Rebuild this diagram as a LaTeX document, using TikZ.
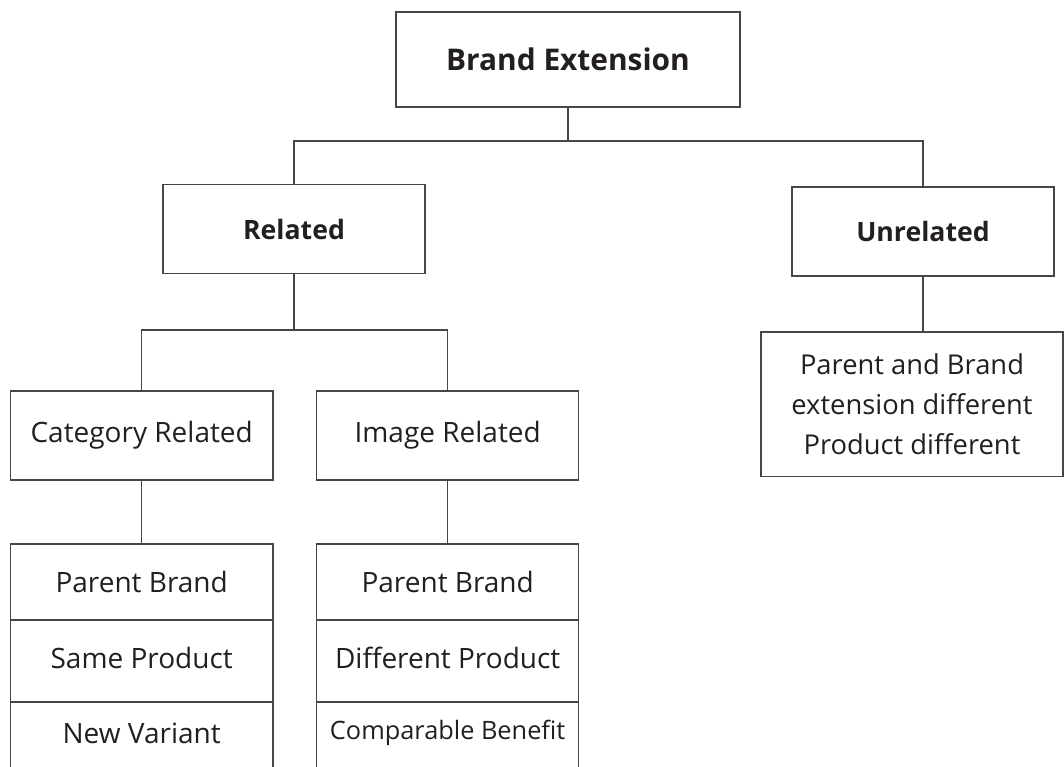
\documentclass[tikz,border=0pt]{standalone}
\usepackage{fontspec}
\setmainfont{Open Sans}
\definecolor{linec}{RGB}{70,70,70}
\definecolor{textc}{RGB}{35,31,32}
\tikzset{
  box/.style={draw=linec, line width=1.1pt, fill=white, inner sep=0pt, text=textc,
    font=\fontsize{21}{25}\selectfont},
  bbox/.style={box, font=\fontsize{20}{24}\selectfont\bfseries},
  conn/.style={draw=linec, line width=1.1pt},
}
\begin{document}
\begin{tikzpicture}[x=0.75pt, y=-0.75pt]
\useasboundingbox (0,0) rectangle (1064,767);
\clip (0,0) rectangle (1064,767);
\fill[white] (0,0) rectangle (1064,767);
% level 0
\node[bbox, font=\fontsize{22.4}{26}\selectfont\bfseries, minimum width=344*0.75pt, minimum height=95*0.75pt] (be) at (568,59.5) {Brand Extension};
% level 1
\node[bbox, minimum width=262*0.75pt, minimum height=89*0.75pt] (rel) at (294,229) {Related};
\node[bbox, minimum width=262*0.75pt, minimum height=89*0.75pt] (unrel) at (923,231.5) {Unrelated};
% level 2
\node[box, minimum width=262.5*0.75pt, minimum height=89*0.75pt] (cat) at (141.7,435.5) {Category Related};
\node[box, minimum width=262*0.75pt, minimum height=89*0.75pt] (img) at (447.7,435.5) {Image Related};
\node[box, minimum width=302*0.75pt, minimum height=144.7*0.75pt, align=center,
  font=\fontsize{20.5}{30}\selectfont] (ut) at (912,404.3)
  {Parent and Brand\\extension different\\Product different};
% level 3 stacks
\node[box, minimum width=262.5*0.75pt, minimum height=76*0.75pt] (c1) at (141.7,582) {Parent Brand};
\node[box, minimum width=262.5*0.75pt, minimum height=82*0.75pt] (c2) at (141.7,661) {};
\node[text=textc, font=\fontsize{21}{25}\selectfont] (c2t) at (141.7,658) {Same Product};
\node[box, minimum width=262.5*0.75pt, minimum height=84*0.75pt] (c3) at (141.7,744) {};
\node[text=textc, font=\fontsize{21}{25}\selectfont] (c3t) at (141.7,733) {New Variant};
\node[box, minimum width=262*0.75pt, minimum height=76*0.75pt] (i1) at (447.7,582) {Parent Brand};
\node[box, minimum width=262*0.75pt, minimum height=82*0.75pt] (i2) at (447.7,661) {};
\node[text=textc, font=\fontsize{21}{25}\selectfont] (i2t) at (447.7,658) {Different Product};
\node[box, minimum width=262*0.75pt, minimum height=84*0.75pt] (i3) at (447.7,744) {};
\node[text=textc, font=\fontsize{19}{23}\selectfont] (i3t) at (447.7,733) {Comparable Benefit};
% connectors
\coordinate (j1) at (568,141);
\coordinate (j2) at (294,330);
\draw[conn] (be.south) -- (j1);
\draw[conn] (rel.north) |- (j1) -| (unrel.north);
\draw[conn] (rel.south) -- (j2);
\draw[conn] (cat.north) |- (j2) -| (img.north);
\draw[conn] (unrel.south) -- (unrel.south |- ut.north);
\draw[conn] (cat.south) -- (c1.north);
\draw[conn] (img.south) -- (i1.north);
\end{tikzpicture}
\end{document}
